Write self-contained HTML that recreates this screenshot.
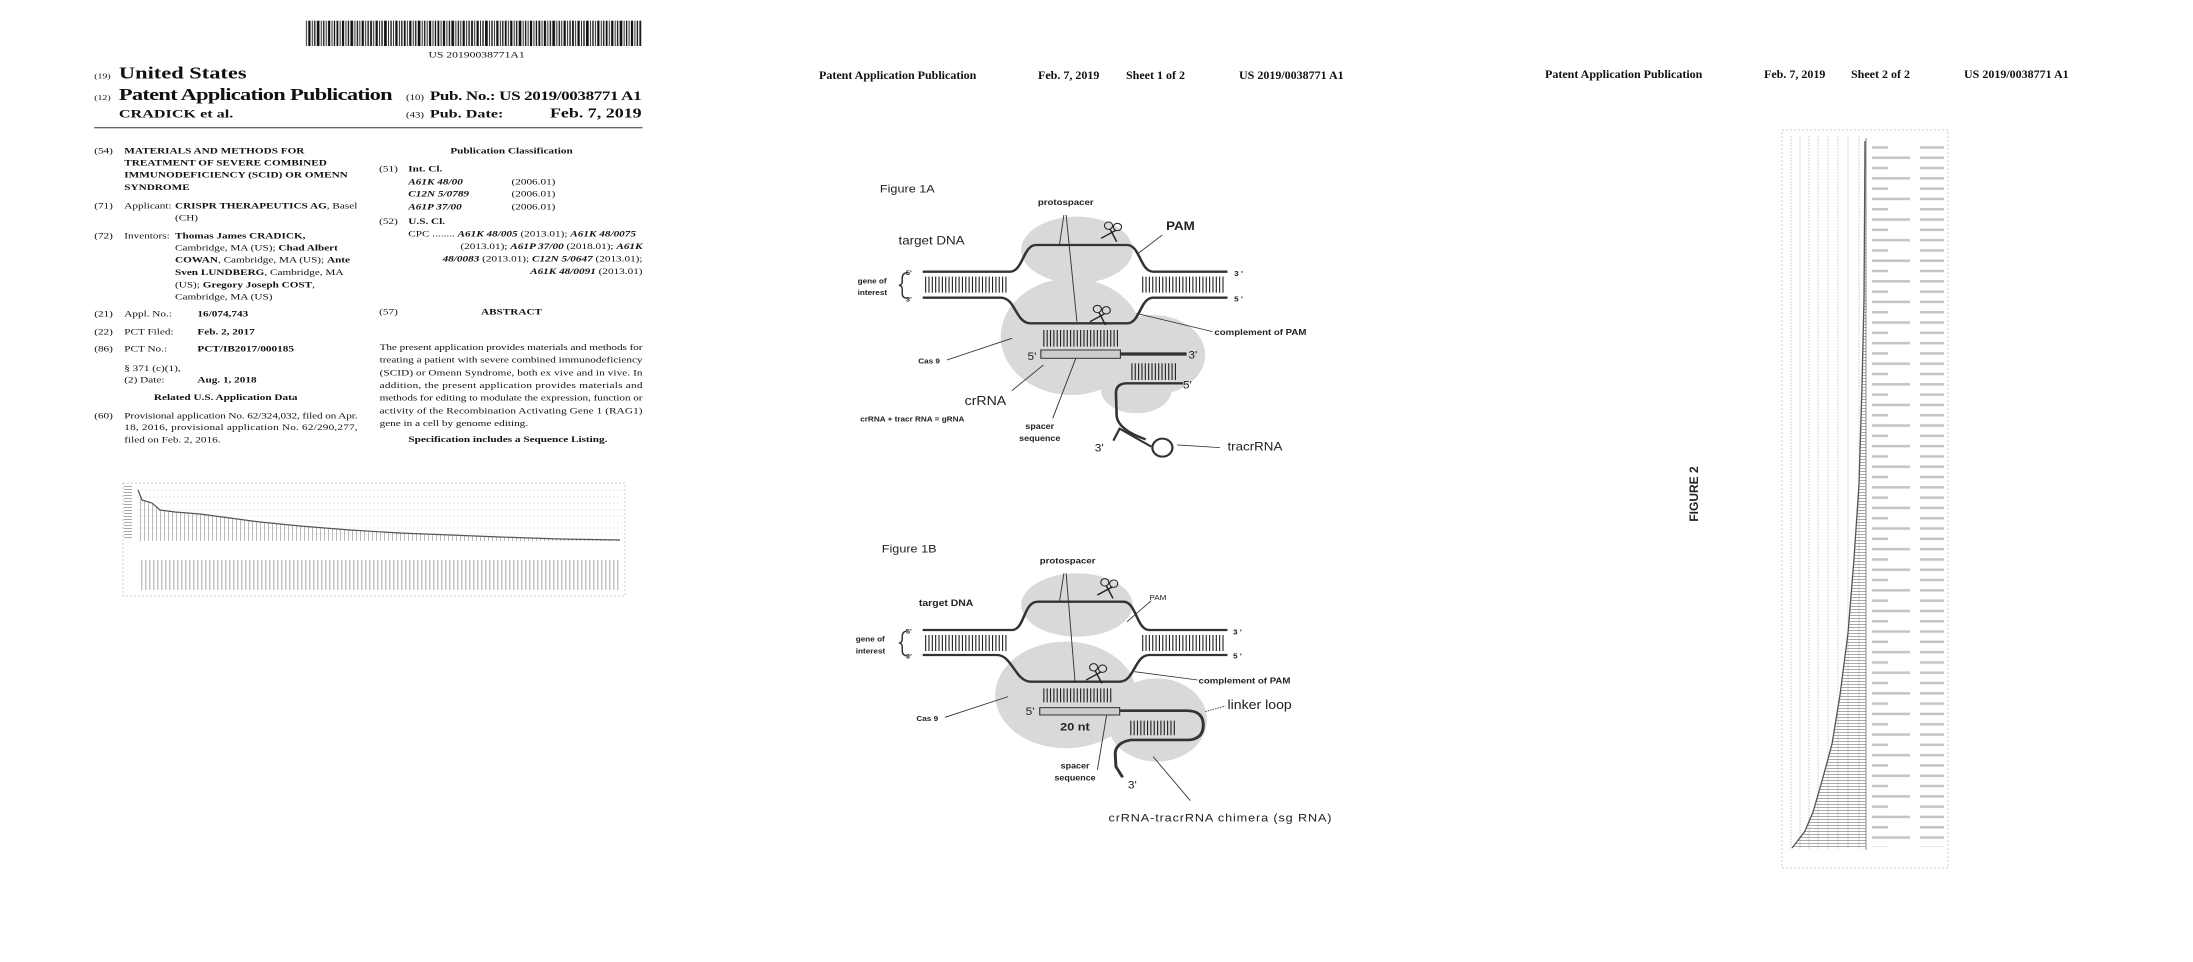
<!DOCTYPE html>
<html><head><meta charset="utf-8"><style>
html,body{margin:0;padding:0;background:#fff;width:2193px;height:962px;overflow:hidden}
svg{display:block}
.s{font-family:"Liberation Serif",serif;fill:#111}
.b{font-weight:bold}
.a{font-family:"Liberation Sans",sans-serif;fill:#222}
</style></head><body>
<svg width="2193" height="962" viewBox="0 0 2193 962" xmlns="http://www.w3.org/2000/svg">
<defs>
<pattern id="bc" x="0" y="0" width="75" height="80" patternUnits="userSpaceOnUse">
<rect x="0" y="0" width="4" height="80" fill="#111"/><rect x="7" width="2" height="80" fill="#111"/><rect x="12" width="5" height="80" fill="#111"/><rect x="20" width="2" height="80" fill="#111"/><rect x="25" width="3" height="80" fill="#111"/><rect x="31" width="6" height="80" fill="#111"/><rect x="40" width="2" height="80" fill="#111"/><rect x="45" width="3" height="80" fill="#111"/><rect x="51" width="2" height="80" fill="#111"/><rect x="56" width="5" height="80" fill="#111"/><rect x="64" width="2" height="80" fill="#111"/><rect x="69" width="3" height="80" fill="#111"/>
</pattern>
<pattern id="vl" width="4" height="10" patternUnits="userSpaceOnUse"><rect width="1" height="10" fill="#bbb"/></pattern>
<pattern id="hl" width="10" height="3" patternUnits="userSpaceOnUse"><rect width="10" height="1" fill="#aaa"/></pattern>
<pattern id="lab" width="80" height="20.6" patternUnits="userSpaceOnUse"><rect x="0" y="2" width="48" height="2.5" fill="#c4c4c4"/><rect x="0" y="12.3" width="70" height="2.5" fill="#c4c4c4"/></pattern>
<pattern id="labv" width="4" height="80" patternUnits="userSpaceOnUse"><rect x="1" y="0" width="1.5" height="45" fill="#c4c4c4"/></pattern>
<g id="sc"><circle cx="-10" cy="-28" r="11" fill="none" stroke="#222" stroke-width="3"/><circle cx="14" cy="-24" r="11" fill="none" stroke="#222" stroke-width="3"/><line x1="-6" y1="-18" x2="12" y2="20" stroke="#222" stroke-width="4"/><line x1="10" y1="-14" x2="-30" y2="10" stroke="#222" stroke-width="4"/></g>
</defs>

<!-- PAGE 1 -->
<g transform="scale(0.4487,0.3333)">
<rect x="680" y="62" width="750" height="76" fill="url(#bc)"/>
<text x="955" y="172" class="s" font-size="26">US 20190038771A1</text>
<text x="210" y="235" class="s" font-size="22">(19)</text>
<text x="265" y="235" class="s b" font-size="50">United States</text>
<text x="210" y="300" class="s" font-size="22">(12)</text>
<text x="265" y="300" class="s b" font-size="50" textLength="610">Patent Application Publication</text>
<text x="905" y="300" class="s" font-size="24">(10)</text>
<text x="958" y="300" class="s b" font-size="38" textLength="472">Pub. No.: US 2019/0038771 A1</text>
<text x="265" y="352" class="s b" font-size="36">CRADICK et al.</text>
<text x="905" y="352" class="s" font-size="24">(43)</text>
<text x="958" y="352" class="s b" font-size="36">Pub. Date:</text>
<text x="1430" y="352" class="s b" font-size="40" text-anchor="end">Feb. 7, 2019</text>
<rect x="210" y="381" width="1222" height="4" fill="#666"/>
<g class="s" font-size="25">
<text x="210" y="460">(54)</text>
<text x="277" y="460" class="b">MATERIALS AND METHODS FOR</text>
<text x="277" y="497" class="b">TREATMENT OF SEVERE COMBINED</text>
<text x="277" y="533" class="b">IMMUNODEFICIENCY (SCID) OR OMENN</text>
<text x="277" y="570" class="b">SYNDROME</text>
<text x="210" y="625">(71)</text><text x="277" y="625">Applicant:</text><text x="390" y="625"><tspan class="b">CRISPR THERAPEUTICS AG</tspan>, Basel</text>
<text x="390" y="662">(CH)</text>
<text x="210" y="715">(72)</text><text x="277" y="715">Inventors:</text><text x="390" y="715" class="b">Thomas James CRADICK,</text>
<text x="390" y="752">Cambridge, MA (US); <tspan class="b">Chad Albert</tspan></text>
<text x="390" y="788"><tspan class="b">COWAN</tspan>, Cambridge, MA (US); <tspan class="b">Ante</tspan></text>
<text x="390" y="825"><tspan class="b">Sven LUNDBERG</tspan>, Cambridge, MA</text>
<text x="390" y="862">(US); <tspan class="b">Gregory Joseph COST</tspan>,</text>
<text x="390" y="898">Cambridge, MA (US)</text>
<text x="210" y="950">(21)</text><text x="277" y="950">Appl. No.:</text><text x="440" y="950" class="b">16/074,743</text>
<text x="210" y="1003">(22)</text><text x="277" y="1003">PCT Filed:</text><text x="440" y="1003" class="b">Feb. 2, 2017</text>
<text x="210" y="1055">(86)</text><text x="277" y="1055">PCT No.:</text><text x="440" y="1055" class="b">PCT/IB2017/000185</text>
<text x="277" y="1113">§ 371 (c)(1),</text>
<text x="277" y="1147">(2) Date:</text><text x="440" y="1147" class="b">Aug. 1, 2018</text>
<text x="503" y="1200" class="b" text-anchor="middle">Related U.S. Application Data</text>
<text x="210" y="1255">(60)</text>
<text x="277" y="1255" textLength="520">Provisional application No. 62/324,032, filed on Apr.</text>
<text x="277" y="1290" textLength="520">18, 2016, provisional application No. 62/290,277,</text>
<text x="277" y="1327">filed on Feb. 2, 2016.</text>
<text x="1140" y="460" class="b" text-anchor="middle">Publication Classification</text>
<text x="845" y="515">(51)</text><text x="910" y="515" class="b">Int. Cl.</text>
<text x="910" y="553" font-style="italic" class="b">A61K 48/00</text><text x="1140" y="553">(2006.01)</text>
<text x="910" y="590" font-style="italic" class="b">C12N 5/0789</text><text x="1140" y="590">(2006.01)</text>
<text x="910" y="628" font-style="italic" class="b">A61P 37/00</text><text x="1140" y="628">(2006.01)</text>
<text x="845" y="672">(52)</text><text x="910" y="672" class="b">U.S. Cl.</text>
<text x="910" y="710">CPC ........ <tspan font-style="italic" class="b">A61K 48/005</tspan> (2013.01); <tspan font-style="italic" class="b">A61K 48/0075</tspan></text>
<text x="1432" y="747" text-anchor="end">(2013.01); <tspan font-style="italic" class="b">A61P 37/00</tspan> (2018.01); <tspan font-style="italic" class="b">A61K</tspan></text>
<text x="1432" y="784" text-anchor="end"><tspan font-style="italic" class="b">48/0083</tspan> (2013.01); <tspan font-style="italic" class="b">C12N 5/0647</tspan> (2013.01);</text>
<text x="1432" y="822" text-anchor="end"><tspan font-style="italic" class="b">A61K 48/0091</tspan> (2013.01)</text>
<text x="845" y="943">(57)</text><text x="1140" y="943" class="b" text-anchor="middle">ABSTRACT</text>
<text x="846" y="1050" textLength="586">The present application provides materials and methods for</text>
<text x="846" y="1088" textLength="586">treating a patient with severe combined immunodeficiency</text>
<text x="846" y="1126" textLength="586">(SCID) or Omenn Syndrome, both ex vive and in vive. In</text>
<text x="846" y="1164" textLength="586">addition, the present application provides materials and</text>
<text x="846" y="1202" textLength="586">methods for editing to modulate the expression, function or</text>
<text x="846" y="1240" textLength="586">activity of the Recombination Activating Gene 1 (RAG1)</text>
<text x="846" y="1278">gene in a cell by genome editing.</text>
<text x="1132" y="1326" class="b" text-anchor="middle">Specification includes a Sequence Listing.</text>
</g>
</g>
<!-- left chart -->
<rect x="123" y="483" width="502" height="113" fill="none" stroke="#ccc" stroke-dasharray="2,2"/>
<g stroke="#ddd" stroke-dasharray="2,2" stroke-width="0.8">
<line x1="137" y1="490" x2="622" y2="490"/><line x1="137" y1="497" x2="622" y2="497"/><line x1="137" y1="503" x2="622" y2="503"/><line x1="137" y1="510" x2="622" y2="510"/><line x1="137" y1="516" x2="622" y2="516"/><line x1="137" y1="522" x2="622" y2="522"/><line x1="137" y1="528" x2="622" y2="528"/><line x1="137" y1="534" x2="622" y2="534"/>
</g>
<path d="M138,490 L142,500 L152,503 L160,510 L175,512 L200,514 L230,518 L260,522 L300,526 L350,530 L400,533 L450,535 L500,537 L560,539 L620,540 L620,541 L138,541 Z" fill="url(#vl)" stroke="none"/>
<polyline points="138,490 142,500 152,503 160,510 175,512 200,514 230,518 260,522 300,526 350,530 400,533 450,535 500,537 560,539 620,540" fill="none" stroke="#555" stroke-width="1.2"/>
<rect x="140" y="544" width="480" height="46" fill="url(#labv)"/>
<rect x="124" y="486" width="8" height="54" fill="url(#hl)"/>

<!-- PAGE 2 header -->
<g class="s b" font-size="12">
<text x="819" y="79">Patent Application Publication</text>
<text x="1038" y="79">Feb. 7, 2019</text>
<text x="1126" y="79">Sheet 1 of 2</text>
<text x="1239" y="79">US 2019/0038771 A1</text>
</g>

<!-- FIGURE 1A -->
<g transform="translate(800,150) scale(0.3717,0.3333)">
<g fill="#d9d9d9">
<ellipse cx="745" cy="300" rx="150" ry="100"/>
<ellipse cx="730" cy="560" rx="190" ry="175"/>
<ellipse cx="950" cy="615" rx="140" ry="120"/>
<ellipse cx="905" cy="720" rx="95" ry="70"/>
</g>
<path d="M575,365 L610,365 L600,350Z M915,365 L880,365 L890,350Z" fill="#fff"/>
<g fill="none" stroke="#333" stroke-width="7">
<path d="M330,365 L565,365 C600,365 600,285 635,285 L880,285 C915,285 915,365 950,365 L1150,365"/>
<path d="M330,443 L540,443 C580,443 580,520 620,520 L880,520 C915,520 915,443 950,443 L1150,443"/>
<path d="M862,612 L1040,612" stroke-width="10"/>
<path d="M1030,700 L880,700 Q850,700 850,730 L852,800 Q858,840 930,868"/>
<path d="M843,872 L860,836 L945,890" stroke-width="6"/>
<circle cx="975" cy="893" r="27" stroke-width="6"/>
</g>
<g stroke="#222" stroke-width="3">
<path d="M338,380v48M347,380v48M356,380v48M365,380v48M374,380v48M383,380v48M392,380v48M401,380v48M410,380v48M419,380v48M428,380v48M437,380v48M446,380v48M455,380v48M464,380v48M473,380v48M482,380v48M491,380v48M500,380v48M509,380v48M518,380v48M527,380v48M536,380v48M545,380v48M554,380v48"/>
<path d="M922,380v48M931,380v48M940,380v48M949,380v48M958,380v48M967,380v48M976,380v48M985,380v48M994,380v48M1003,380v48M1012,380v48M1021,380v48M1030,380v48M1039,380v48M1048,380v48M1057,380v48M1066,380v48M1075,380v48M1084,380v48M1093,380v48M1102,380v48M1111,380v48M1120,380v48M1129,380v48M1138,380v48"/>
<path d="M656,540v50M665,540v50M674,540v50M683,540v50M692,540v50M701,540v50M710,540v50M719,540v50M728,540v50M737,540v50M746,540v50M755,540v50M764,540v50M773,540v50M782,540v50M791,540v50M800,540v50M809,540v50M818,540v50M827,540v50M836,540v50M845,540v50M854,540v50"/>
<path d="M893,640v50M902,640v50M911,640v50M920,640v50M929,640v50M938,640v50M947,640v50M956,640v50M965,640v50M974,640v50M983,640v50M992,640v50M1001,640v50M1010,640v50"/>
</g>
<rect x="648" y="600" width="214" height="25" fill="#ccc" stroke="#333" stroke-width="3"/>
<use href="#sc" x="840" y="255"/>
<use href="#sc" x="810" y="505"/>
<g stroke="#333" stroke-width="2.5" fill="none">
<line x1="710" y1="195" x2="698" y2="285"/><line x1="716" y1="195" x2="745" y2="515"/>
<line x1="975" y1="255" x2="910" y2="310"/>
<line x1="905" y1="490" x2="1110" y2="545"/>
<line x1="395" y1="630" x2="570" y2="565"/>
<line x1="570" y1="722" x2="655" y2="645"/>
<line x1="680" y1="805" x2="742" y2="625"/>
<line x1="1015" y1="885" x2="1130" y2="893"/>
<path d="M290,368 Q275,368 275,385 L275,395 Q275,405 266,406 Q275,407 275,417 L275,430 Q275,445 290,445" stroke-width="4"/>
</g>
<g class="a">
<text x="215" y="127" font-size="34">Figure 1A</text>
<text x="640" y="165" font-size="26" class="b">protospacer</text>
<text x="985" y="240" font-size="36" class="b">PAM</text>
<text x="265" y="283" font-size="36">target DNA</text>
<text x="155" y="400" font-size="22" class="b">gene of</text>
<text x="155" y="435" font-size="22" class="b">interest</text>
<text x="285" y="375" font-size="20" class="b">5'</text>
<text x="285" y="455" font-size="20" class="b">3'</text>
<text x="1168" y="378" font-size="22" class="b">3 '</text>
<text x="1168" y="455" font-size="22" class="b">5 '</text>
<text x="1115" y="555" font-size="26" class="b">complement of PAM</text>
<text x="318" y="640" font-size="22" class="b">Cas 9</text>
<text x="612" y="630" font-size="32">5'</text>
<text x="1045" y="625" font-size="32">3'</text>
<text x="1030" y="715" font-size="32">5'</text>
<text x="443" y="765" font-size="38">crRNA</text>
<text x="162" y="815" font-size="22" class="b">crRNA + tracr RNA = gRNA</text>
<text x="645" y="837" font-size="24" class="b" text-anchor="middle">spacer</text>
<text x="645" y="873" font-size="24" class="b" text-anchor="middle">sequence</text>
<text x="793" y="905" font-size="32">3'</text>
<text x="1150" y="902" font-size="36">tracrRNA</text>
</g>
</g>

<!-- FIGURE 1B -->
<g transform="translate(800,520) scale(0.3717,0.3333)">
<g fill="#d9d9d9">
<ellipse cx="745" cy="255" rx="150" ry="95"/>
<ellipse cx="715" cy="525" rx="190" ry="160"/>
<ellipse cx="960" cy="600" rx="135" ry="125"/>
</g>
<path d="M578,330 L612,330 L600,318Z M910,330 L880,330 L890,318Z" fill="#fff"/>
<g fill="none" stroke="#333" stroke-width="7">
<path d="M330,330 L570,330 C605,330 600,245 640,245 L870,245 C905,245 905,330 940,330 L1150,330"/>
<path d="M330,405 L530,405 C570,405 580,485 620,485 L860,485 C900,485 900,405 940,405 L1150,405"/>
<path d="M860,572 L1040,572 Q1085,572 1085,615 Q1085,660 1040,660 L890,660 Q850,668 848,700 L850,740 L868,772" stroke-width="8"/>
</g>
<g stroke="#222" stroke-width="3">
<path d="M338,345v48M347,345v48M356,345v48M365,345v48M374,345v48M383,345v48M392,345v48M401,345v48M410,345v48M419,345v48M428,345v48M437,345v48M446,345v48M455,345v48M464,345v48M473,345v48M482,345v48M491,345v48M500,345v48M509,345v48M518,345v48M527,345v48M536,345v48M545,345v48M554,345v48"/>
<path d="M922,345v48M931,345v48M940,345v48M949,345v48M958,345v48M967,345v48M976,345v48M985,345v48M994,345v48M1003,345v48M1012,345v48M1021,345v48M1030,345v48M1039,345v48M1048,345v48M1057,345v48M1066,345v48M1075,345v48M1084,345v48M1093,345v48M1102,345v48M1111,345v48M1120,345v48M1129,345v48M1138,345v48"/>
<path d="M656,505v42M665,505v42M674,505v42M683,505v42M692,505v42M701,505v42M710,505v42M719,505v42M728,505v42M737,505v42M746,505v42M755,505v42M764,505v42M773,505v42M782,505v42M791,505v42M800,505v42M809,505v42M818,505v42M827,505v42M836,505v42"/>
<path d="M890,602v44M899,602v44M908,602v44M917,602v44M926,602v44M935,602v44M944,602v44M953,602v44M962,602v44M971,602v44M980,602v44M989,602v44M998,602v44M1007,602v44"/>
</g>
<rect x="645" y="563" width="215" height="22" fill="#ccc" stroke="#333" stroke-width="3"/>
<use href="#sc" x="830" y="215"/>
<use href="#sc" x="800" y="470"/>
<g stroke="#333" stroke-width="2.5" fill="none">
<line x1="710" y1="160" x2="698" y2="245"/><line x1="716" y1="160" x2="740" y2="485"/>
<line x1="945" y1="242" x2="880" y2="305"/>
<line x1="900" y1="455" x2="1070" y2="480"/>
<line x1="390" y1="592" x2="560" y2="530"/>
<line x1="1090" y1="575" x2="1145" y2="558" stroke-dasharray="4,3"/>
<line x1="800" y1="750" x2="825" y2="585"/>
<line x1="1050" y1="842" x2="950" y2="710"/>
<path d="M290,333 Q275,333 275,350 L275,358 Q275,368 266,369 Q275,370 275,380 L275,392 Q275,408 290,408" stroke-width="4"/>
</g>
<g class="a">
<text x="220" y="97" font-size="34">Figure 1B</text>
<text x="645" y="130" font-size="26" class="b">protospacer</text>
<text x="940" y="240" font-size="22">PAM</text>
<text x="320" y="258" font-size="28" class="b">target DNA</text>
<text x="150" y="365" font-size="22" class="b">gene of</text>
<text x="150" y="400" font-size="22" class="b">interest</text>
<text x="285" y="340" font-size="20" class="b">5'</text>
<text x="285" y="415" font-size="20" class="b">3'</text>
<text x="1165" y="343" font-size="22" class="b">3 '</text>
<text x="1165" y="415" font-size="22" class="b">5 '</text>
<text x="1072" y="490" font-size="26" class="b">complement of PAM</text>
<text x="1150" y="567" font-size="38">linker loop</text>
<text x="313" y="603" font-size="22" class="b">Cas 9</text>
<text x="607" y="585" font-size="32">5'</text>
<text x="700" y="632" font-size="34" class="b">20 nt</text>
<text x="740" y="745" font-size="24" class="b" text-anchor="middle">spacer</text>
<text x="740" y="782" font-size="24" class="b" text-anchor="middle">sequence</text>
<text x="882" y="805" font-size="32">3'</text>
<text x="830" y="905" font-size="34" textLength="600">crRNA-tracrRNA chimera (sg RNA)</text>
</g>
</g>

<!-- PAGE 3 -->
<g class="s b" font-size="12">
<text x="1545" y="78">Patent Application Publication</text>
<text x="1764" y="78">Feb. 7, 2019</text>
<text x="1851" y="78">Sheet 2 of 2</text>
<text x="1964" y="78">US 2019/0038771 A1</text>
</g>
<text class="a b" font-size="12" transform="translate(1698,494) rotate(-90)" text-anchor="middle">FIGURE 2</text>
<rect x="1782" y="130" width="166" height="738" fill="none" stroke="#ccc" stroke-dasharray="2,2"/>
<g stroke="#ccc" stroke-width="0.8" stroke-dasharray="2,1">
<line x1="1791" y1="136" x2="1791" y2="850"/><line x1="1800" y1="136" x2="1800" y2="850"/><line x1="1809" y1="136" x2="1809" y2="850"/><line x1="1818" y1="136" x2="1818" y2="850"/><line x1="1828" y1="136" x2="1828" y2="850"/><line x1="1838" y1="136" x2="1838" y2="850"/><line x1="1848" y1="136" x2="1848" y2="850"/><line x1="1859" y1="136" x2="1859" y2="850"/>
</g>
<path d="M1865,141 L1864,299 L1862,386 L1859,484 L1854,559 L1848,633 L1840,695 L1832,744 L1822,781 L1813,812 L1805,831 L1796,843 L1792,848 L1866,848 L1866,141 Z" fill="url(#hl)"/>
<polyline points="1865,141 1864,299 1862,386 1859,484 1854,559 1848,633 1840,695 1832,744 1822,781 1813,812 1805,831 1796,843 1792,848" fill="none" stroke="#555" stroke-width="1.3"/>
<line x1="1866" y1="138" x2="1866" y2="850" stroke="#888" stroke-width="1"/>
<rect x="1872" y="145" width="72" height="702" fill="url(#lab)"/>
<rect x="1788" y="853" width="70" height="7" fill="url(#labv)"/>
</svg>
</body></html>
